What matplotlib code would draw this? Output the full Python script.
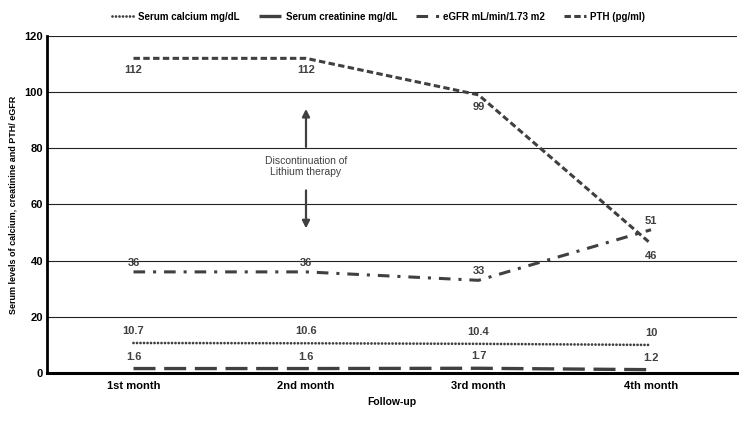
import matplotlib
matplotlib.use("Agg")
import matplotlib.pyplot as plt

plt.rcParams['font.family'] = ['Liberation Sans', 'DejaVu Sans']

months = ["1st month", "2nd month", "3rd month", "4th month"]
calcium = [10.7, 10.6, 10.4, 10]
creatinine = [1.6, 1.6, 1.7, 1.2]
egfr = [36, 36, 33, 51]
pth = [112, 112, 99, 46]

col = "#404040"
x = list(range(len(months)))

fig = plt.figure(figsize=(7.5, 4.22), dpi=100)
ax = fig.add_axes([0.063, 0.116, 0.92, 0.799])

l1, = ax.plot(x, calcium, color=col, lw=2.0, linestyle=(0, (0.01, 1.25)),
              dash_capstyle='round', label="Serum calcium mg/dL")
l2, = ax.plot(x, creatinine, color=col, lw=2.4, linestyle=(0, (6.6, 2.6)),
              label="Serum creatinine mg/dL")
l3, = ax.plot(x, egfr, color=col, lw=2.2, linestyle=(0, (3.8, 2.6, 1.0, 2.6)),
              label="eGFR mL/min/1.73 m2")
l4, = ax.plot(x, pth, color=col, lw=2.2, linestyle=(0, (2.1, 1.1)),
              label="PTH (pg/ml)")

lab = dict(color=col, fontsize=8, fontweight='bold', ha='center')
for i in x:
    ax.annotate(f"{calcium[i]:g}", (i, calcium[i]), xytext=(0, 5), textcoords='offset points', va='bottom', **lab)
    ax.annotate(f"{creatinine[i]:g}", (i, creatinine[i]), xytext=(0, 5), textcoords='offset points', va='bottom', **lab)
    ax.annotate(f"{egfr[i]:g}", (i, egfr[i]), xytext=(0, 3), textcoords='offset points', va='bottom', **lab)
    ax.annotate(f"{pth[i]:g}", (i, pth[i]), xytext=(0, -5), textcoords='offset points', va='top', **lab)

# annotation
ax.text(1.0, 73.5, "Discontinuation of\nLithium therapy", ha='center', va='center',
        fontsize=7.5, color=col)
ax.annotate("", xy=(1.0, 95), xytext=(1.0, 79.5),
            arrowprops=dict(arrowstyle='-|>', color=col, lw=1.6, mutation_scale=11))
ax.annotate("", xy=(1.0, 50.5), xytext=(1.0, 66),
            arrowprops=dict(arrowstyle='-|>', color=col, lw=1.6, mutation_scale=11))

ax.set_xlim(-0.5, 3.5)
ax.set_ylim(0, 120)
ax.set_yticks(range(0, 121, 20))
ax.set_xticks(x)
ax.set_xticklabels(months)
ax.tick_params(length=0, labelsize=8)
for t in ax.get_xticklabels() + ax.get_yticklabels():
    t.set_fontweight('bold')
ax.tick_params(axis='x', pad=6)
ax.tick_params(axis='y', pad=3)
ax.grid(axis='y', color='#222222', lw=0.8)
ax.set_axisbelow(True)
for s in ['top', 'right']:
    ax.spines[s].set_visible(False)
ax.spines['left'].set_linewidth(2)
ax.spines['bottom'].set_linewidth(2.2)

ax.set_xlabel("Follow-up", fontsize=7.5, fontweight='bold', labelpad=4)
ax.set_ylabel("Serum levels of calcium, creatinine and PTH/ eGFR", fontsize=6.5,
              fontweight='bold', labelpad=5)

fig.legend(handles=[l1, l2, l3, l4], loc='center', bbox_to_anchor=(0.505, 0.96),
           ncol=4, frameon=False, prop=dict(size=7, weight='bold'),
           handlelength=2.3, columnspacing=2.0, handletextpad=0.4)

fig.savefig("out.png", dpi=100)
